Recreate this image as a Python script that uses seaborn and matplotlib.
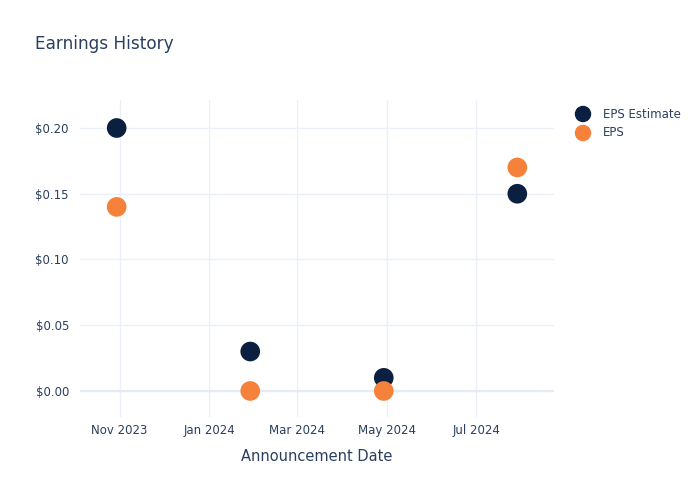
import matplotlib
matplotlib.use("Agg")
import matplotlib.pyplot as plt
import matplotlib.dates as mdates
import seaborn as sns
import pandas as pd
import numpy as np

dates = ["2023-10-30", "2024-01-29", "2024-04-29", "2024-07-29"]
eps_estimate = [0.20, 0.03, 0.01, 0.15]
eps_actual = [0.14, 0.00, 0.00, 0.17]
series_names = ["EPS Estimate", "EPS"]
colors = ["#0b1f40", "#f5813a"]

df = pd.DataFrame({
    "date": pd.to_datetime(dates * 2),
    "value": eps_estimate + eps_actual,
    "series": [series_names[0]] * 4 + [series_names[1]] * 4,
})

sns.set_style("white")
plt.rcParams["font.family"] = ["DejaVu Sans"]
text_color = "#2a3f5f"

fig = plt.figure(figsize=(7, 5), dpi=100)
ax = fig.add_axes([80 / 700, 83 / 500, 474 / 700, 317 / 500])

sns.scatterplot(data=df, x="date", y="value", hue="series",
                palette=dict(zip(series_names, colors)), s=200,
                edgecolor="none", ax=ax, legend=False, zorder=3)

ax.set_xlim(pd.Timestamp("2023-10-05"), pd.Timestamp("2024-08-23"))
ax.set_ylim(-0.0198, 0.2213)
ax.xaxis.set_major_locator(mdates.MonthLocator(bymonth=[1, 3, 5, 7, 11]))
ax.xaxis.set_major_formatter(mdates.DateFormatter("%b %Y"))
ax.set_yticks([0.0, 0.05, 0.10, 0.15, 0.20])
ax.set_yticklabels(["$0.00", "$0.05", "$0.10", "$0.15", "$0.20"])

ax.grid(True, color="#ebf0f8", linewidth=1)
ax.axhline(0, color="#e6ebf3", linewidth=1.6, zorder=1)
for s in ax.spines.values():
    s.set_visible(False)
ax.tick_params(axis="x", length=0, labelsize=8.5, colors=text_color, pad=5)
ax.tick_params(axis="y", length=0, labelsize=8.5, colors=text_color, pad=8)
ax.set_xlabel("Announcement Date", fontsize=10.5, color=text_color, labelpad=9)
ax.set_ylabel("")

fig.text(35 / 700, 1 - 44 / 500, "Earnings History", fontsize=12.2,
         color=text_color, va="center", ha="left")

# legend
for i, (name, c) in enumerate(zip(series_names, colors)):
    y = 1 - (114 + 19 * i) / 500
    fig.text(603 / 700, y, name, fontsize=8.5, color=text_color, va="center", ha="left")
leg_ax = fig.add_axes([0, 0, 1, 1], facecolor="none")
leg_ax.set_xlim(0, 700)
leg_ax.set_ylim(500, 0)
leg_ax.axis("off")
leg_ax.scatter([583, 583], [114, 133], c=colors, s=140, edgecolors="none")

fig.savefig("out.png", dpi=100)
